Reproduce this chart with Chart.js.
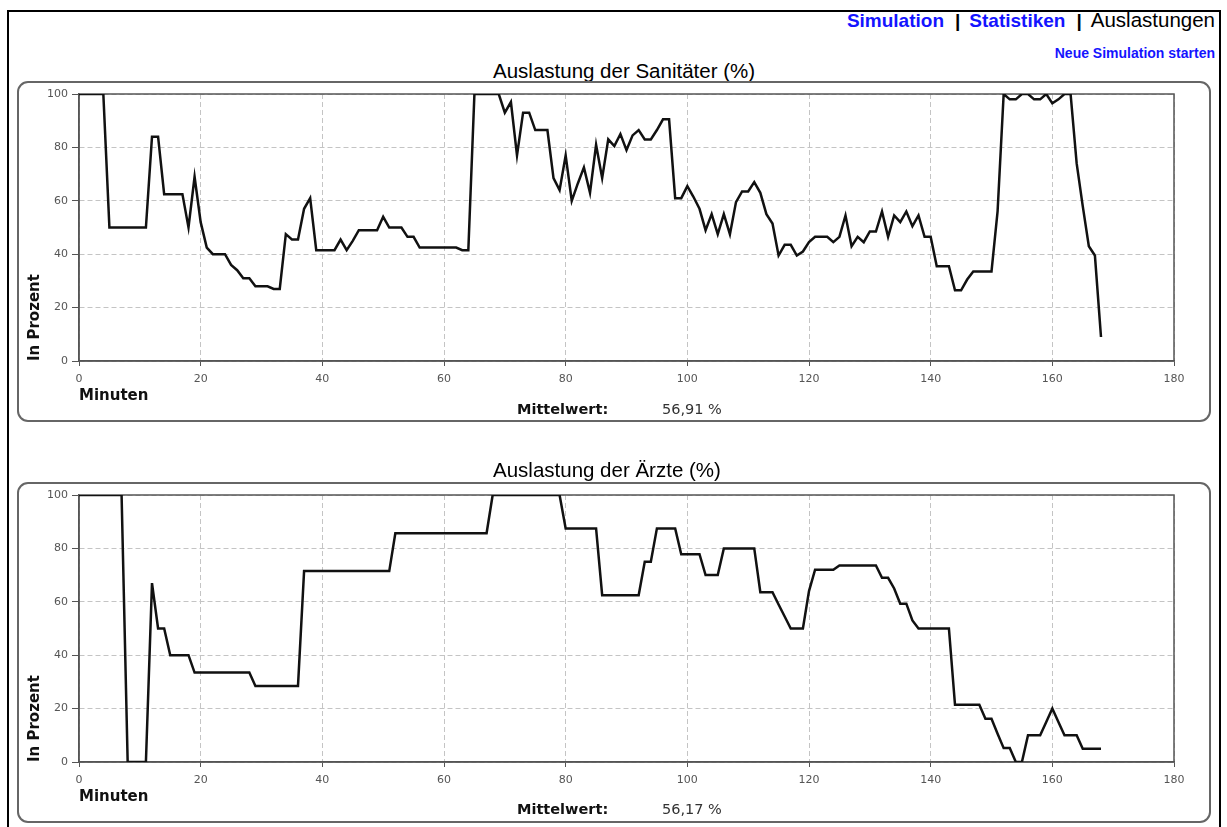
<!DOCTYPE html>
<html lang="de">
<head>
<meta charset="utf-8">
<title>Auslastungen</title>
<script src="https://cdn.jsdelivr.net/npm/chart.js@4.4.1/dist/chart.umd.min.js"></script>
<style>
  body { margin: 0; background: #fff; font-family: "Liberation Sans", Arial, sans-serif; }
  .abs { position: absolute; }
  #rahmen { left: 7px; top: 10px; width: 1214px; height: 900px; border: 2px solid #000; box-sizing: border-box; }
  #nav { right: 12px; top: 10px; font-size: 19px; line-height: 20px; white-space: nowrap; color: #000; }
  #nav .link { color: #1414ff; font-weight: bold; }
  #nav .sep { font-weight: bold; margin: 0 9px 0 11px; }
  #nav .aktiv { font-size: 20.5px; }
  #neu { right: 12px; top: 46px; font-size: 14px; line-height: 14px; font-weight: bold; color: #1414ff; }
  .titel { left: 493px; font-size: 20.5px; line-height: 20px; color: #000; white-space: nowrap; }
  .box { left: 17px; width: 1194px; height: 341px; border: 2px solid #666; border-radius: 11px; box-sizing: border-box; }
  canvas.abs { left: 18px; }
  .mw { font-family: "DejaVu Sans", sans-serif; font-size: 14.5px; line-height: 14.5px; white-space: nowrap; }
  .mw b { color: #111; }
  .mw span { color: #333; position: absolute; left: 145px; }
</style>
</head>
<body>
<div id="rahmen" class="abs"></div>
<div id="nav" class="abs"><span class="link">Simulation</span><span class="sep">|</span><span class="link">Statistiken</span><span class="sep">|</span><span class="aktiv">Auslastungen</span></div>
<div id="neu" class="abs">Neue Simulation starten</div>

<div class="titel abs" style="top:61px">Auslastung der Sanitäter (%)</div>
<div class="box abs" style="top:81px"></div>
<canvas id="chart-san" class="abs" style="top:82px" width="1192" height="339"></canvas>
<div class="mw abs" style="left:517px; top:402px"><b>Mittelwert:</b><span>56,91 %</span></div>

<div class="titel abs" style="top:460px">Auslastung der Ärzte (%)</div>
<div class="box abs" style="top:482px"></div>
<canvas id="chart-arzt" class="abs" style="top:483px" width="1192" height="339"></canvas>
<div class="mw abs" style="left:517px; top:802px"><b>Mittelwert:</b><span>56,17 %</span></div>

<script>
// Minuten der Simulation (x-Achse)
const minuten = [
  0, 1, 2, 3, 4, 5, 6, 7, 8, 9,
  10, 11, 12, 13, 14, 15, 16, 17, 18, 19,
  20, 21, 22, 23, 24, 25, 26, 27, 28, 29,
  30, 31, 32, 33, 34, 35, 36, 37, 38, 39,
  40, 41, 42, 43, 44, 45, 46, 47, 48, 49,
  50, 51, 52, 53, 54, 55, 56, 57, 58, 59,
  60, 61, 62, 63, 64, 65, 66, 67, 68, 69,
  70, 71, 72, 73, 74, 75, 76, 77, 78, 79,
  80, 81, 82, 83, 84, 85, 86, 87, 88, 89,
  90, 91, 92, 93, 94, 95, 96, 97, 98, 99,
  100, 101, 102, 103, 104, 105, 106, 107, 108, 109,
  110, 111, 112, 113, 114, 115, 116, 117, 118, 119,
  120, 121, 122, 123, 124, 125, 126, 127, 128, 129,
  130, 131, 132, 133, 134, 135, 136, 137, 138, 139,
  140, 141, 142, 143, 144, 145, 146, 147, 148, 149,
  150, 151, 152, 153, 154, 155, 156, 157, 158, 159,
  160, 161, 162, 163, 164, 165, 166, 167, 168
];

// Auslastung der Sanitäter in Prozent
const auslastungSanitaeter = [
  100, 100, 100, 100, 100, 50, 50, 50, 50, 50,
  50, 50, 84, 84, 62.5, 62.5, 62.5, 62.5, 50, 69,
  52, 42.5, 40, 40, 40, 36, 34, 31, 31, 28,
  28, 28, 27, 27, 47.5, 45.5, 45.5, 57, 61, 41.5,
  41.5, 41.5, 41.5, 45.5, 41.5, 45, 49, 49, 49, 49,
  54, 50, 50, 50, 46.5, 46.5, 42.5, 42.5, 42.5, 42.5,
  42.5, 42.5, 42.5, 41.5, 41.5, 100, 100, 100, 100, 100,
  93, 97, 77, 93, 93, 86.5, 86.5, 86.5, 68.5, 64,
  77, 60, 66.5, 72.5, 63, 81, 68.5, 83, 80.5, 85,
  79, 84.5, 86.5, 83, 83, 86.5, 90.5, 90.5, 61, 61,
  65.5, 61.5, 57, 49, 55, 47.5, 55, 47.5, 59.5, 63.5,
  63.5, 67, 63, 55, 51.5, 39.5, 43.5, 43.5, 39.5, 41,
  44.5, 46.5, 46.5, 46.5, 44.5, 46.5, 54.5, 43, 46.5, 44.5,
  48.5, 48.5, 56, 46.5, 54.5, 52, 56, 50.5, 54.5, 46.5,
  46.5, 35.5, 35.5, 35.5, 26.5, 26.5, 30.5, 33.5, 33.5, 33.5,
  33.5, 56, 100, 98, 98, 100, 100, 98, 98, 100,
  96.5, 98, 100, 100, 74, 58, 43, 39.5, 9
];

// Auslastung der Ärzte in Prozent
const auslastungAerzte = [
  100, 100, 100, 100, 100, 100, 100, 100, 0, 0,
  0, 0, 67, 50, 50, 40, 40, 40, 40, 33.5,
  33.5, 33.5, 33.5, 33.5, 33.5, 33.5, 33.5, 33.5, 33.5, 28.5,
  28.5, 28.5, 28.5, 28.5, 28.5, 28.5, 28.5, 71.5, 71.5, 71.5,
  71.5, 71.5, 71.5, 71.5, 71.5, 71.5, 71.5, 71.5, 71.5, 71.5,
  71.5, 71.5, 85.7, 85.7, 85.7, 85.7, 85.7, 85.7, 85.7, 85.7,
  85.7, 85.7, 85.7, 85.7, 85.7, 85.7, 85.7, 85.7, 100, 100,
  100, 100, 100, 100, 100, 100, 100, 100, 100, 100,
  87.5, 87.5, 87.5, 87.5, 87.5, 87.5, 62.5, 62.5, 62.5, 62.5,
  62.5, 62.5, 62.5, 75, 75, 87.5, 87.5, 87.5, 87.5, 77.8,
  77.8, 77.8, 77.8, 70, 70, 70, 80, 80, 80, 80,
  80, 80, 63.6, 63.6, 63.6, 59, 54.5, 50, 50, 50,
  64, 72, 72, 72, 72, 73.6, 73.6, 73.6, 73.6, 73.6,
  73.6, 73.6, 69, 69, 65, 59.3, 59.3, 53, 50, 50,
  50, 50, 50, 50, 21.4, 21.4, 21.4, 21.4, 21.4, 16.2,
  16.2, 10.6, 5.2, 5.2, 0, 0, 10, 10, 10, 15,
  20, 15, 10, 10, 10, 5, 5, 5, 5
];

const xTicks = { min: 0, max: 180, step: 20 };
const yTicks = { min: 0, max: 100, step: 20 };

// Rahmen um die Zeichenfläche (oben und rechts fehlt sonst)
const rahmenPlugin = {
  id: 'rahmen',
  beforeDatasetsDraw(chart) {
    const { ctx, chartArea: a } = chart;
    ctx.save();
    ctx.strokeStyle = '#555';
    ctx.lineWidth = 1.5;
    ctx.strokeRect(a.left, a.top, a.right - a.left, a.bottom - a.top);
    ctx.restore();
  }
};

function erstelleDiagramm(canvasId, werte) {
  const tickFont = { family: 'DejaVu Sans', size: 11 };
  const titelFont = { family: 'DejaVu Sans', size: 15, weight: 'bold' };
  const gitter = { color: '#c4c4c4', tickColor: '#555', tickBorderDash: [] };
  const achse = { color: '#555', width: 1.5, dash: [5, 3] };

  return new Chart(document.getElementById(canvasId), {
    type: 'line',
    data: {
      datasets: [{
        data: minuten.map((m, i) => ({ x: m, y: werte[i] })),
        borderColor: '#111',
        borderWidth: 2.5,
        pointRadius: 0,
        tension: 0,
        fill: false
      }]
    },
    options: {
      responsive: false,
      animation: false,
      layout: { padding: { left: 0, right: 36, top: 12, bottom: 0 } },
      plugins: { legend: { display: false }, tooltip: { enabled: false } },
      scales: {
        x: {
          type: 'linear',
          min: xTicks.min, max: xTicks.max,
          ticks: { stepSize: xTicks.step, color: '#555', font: tickFont, padding: 7, maxRotation: 0 },
          grid: { ...gitter, tickLength: 5 },
          border: achse,
          title: { display: true, text: 'Minuten', align: 'start', color: '#111', font: titelFont, padding: { top: 0, bottom: 16 } },
          afterFit(scale) { scale.height = 60; }
        },
        y: {
          min: yTicks.min, max: yTicks.max,
          ticks: { stepSize: yTicks.step, color: '#555', font: tickFont, padding: 4 },
          grid: { ...gitter, tickLength: 7 },
          border: achse,
          title: { display: true, text: 'In Prozent', align: 'start', color: '#111', font: titelFont, padding: { top: 8, bottom: 0 } },
          afterFit(scale) { scale.width = 61; }
        }
      }
    },
    plugins: [rahmenPlugin]
  });
}

document.addEventListener('DOMContentLoaded', function() {
  erstelleDiagramm('chart-san', auslastungSanitaeter);
  erstelleDiagramm('chart-arzt', auslastungAerzte);
});
</script>
</body>
</html>
